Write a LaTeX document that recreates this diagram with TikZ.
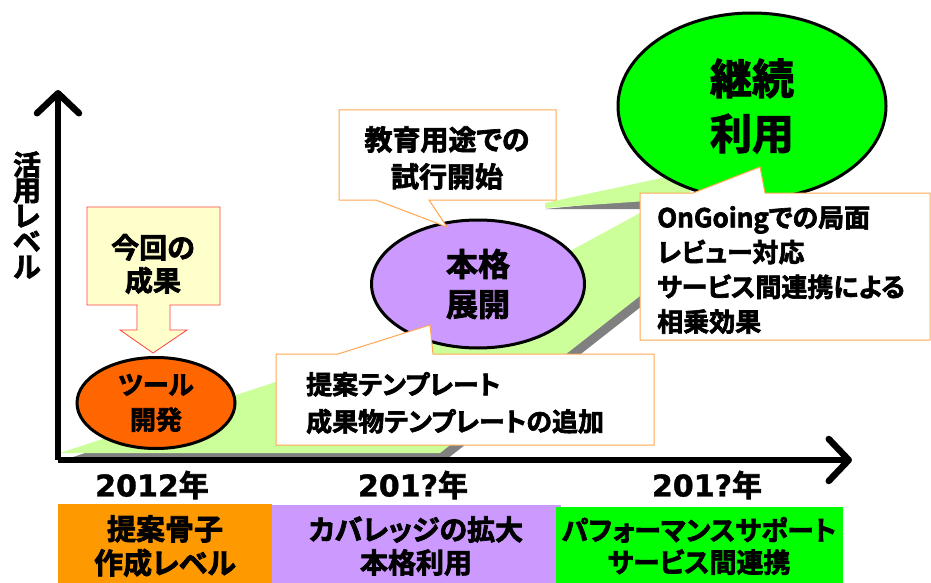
\documentclass[tikz,border=0pt]{standalone}
\usepackage{fontspec}
\setmainfont{Noto Sans CJK JP Bold}[FakeBold=2.5, RawFeature=+palt]
\newfontfamily\digitfont{DejaVu Sans Bold}[FakeBold=1.2]
\usetikzlibrary{shapes.geometric,arrows.meta}
\definecolor{rampgreen}{HTML}{CCFF99}
\definecolor{shadowgray}{HTML}{808080}
\definecolor{toolorange}{HTML}{FF6600}
\definecolor{boxorange}{HTML}{FF9900}
\definecolor{lilac}{HTML}{CC99FF}
\definecolor{brightgreen}{HTML}{00FF00}
\definecolor{paleyellow}{HTML}{FFFFCC}
\definecolor{calloutline}{HTML}{FFA850}
\definecolor{arrowline}{HTML}{FF4040}
\tikzset{
  txt/.style={inner sep=0pt, align=center},
  lefttxt/.style={inner sep=0pt, align=left, anchor=west},
  phase/.style={ellipse, draw=black, line width=3pt, inner sep=0pt, align=center},
  callout/.style={fill=white, draw=calloutline, line width=1pt},
  axis/.style={line width=6.5pt, line join=round, -{Straight Barb[length=20pt, width=42pt, round]}},
  band/.style={inner sep=0pt, align=center},
}
\begin{document}
\begin{tikzpicture}[x=1pt, y=-1pt]
\useasboundingbox (0,0) rectangle (931,583);
\fill[white] (0,0) rectangle (931,583);

% ramp shadow and surface
\fill[shadowgray] (67,459) -- (447,459) -- (647,302) -- (647,219) -- (579,256) -- (477,324) -- cycle;
\fill[rampgreen] (60,453) -- (440,453) -- (640,296) -- (640,213) -- (572,250) -- (470,318) -- cycle;
\fill[shadowgray] (545,209) -- (645,199) -- (645,209) -- cycle;
\fill[rampgreen] (545,203) -- (690,172) -- (690,198) -- (545,208) -- cycle;

% axes
\coordinate (origin) at (58,460);
\coordinate (ytop) at (58,90);
\coordinate (xend) at (852,460);
\draw[axis] (origin) -- (ytop);
\draw[axis] (origin) -- (xend);

% y label
\node[txt, font=\fontsize{28}{25.5}\selectfont] (ylabel) at (27,215) {活\\用\\レ\\ベ\\ル};

% phase ellipses
\node[phase, fill=toolorange, minimum width=158pt, minimum height=91pt,
      font=\fontsize{26}{35}\selectfont] (tool) at (156,403) {ツール\\開発};
\node[phase, fill=lilac, minimum width=213pt, minimum height=128pt,
      font=\fontsize{32}{40}\selectfont] (deploy) at (478,284) {本格\\展開};
\node[phase, fill=brightgreen, minimum width=268pt, minimum height=186pt,
      font=\fontsize{42}{55}\selectfont] (cont) at (752,106) {継続\\利用};

% yellow arrow callout
\filldraw[fill=paleyellow, draw=arrowline, line width=0.8pt]
  (87,207) -- (220,207) -- (220,305) -- (170,305) -- (170,330) -- (187,330) -- (153,353)
  -- (120,330) -- (137,330) -- (137,305) -- (87,305) -- cycle;
\node[txt, font=\fontsize{28}{33}\selectfont] (result) at (153,264) {今回の\\成果};

% callouts
\filldraw[callout] (339,110) -- (556,110) -- (556,200) -- (429,200) -- (447,227) -- (376,200) -- (339,200) -- cycle;
\node[txt, font=\fontsize{28}{37}\selectfont] (trial) at (447,158) {教育用途での\\試行開始};

\filldraw[callout] (276,354) -- (338,354) -- (430,325) -- (433,354) -- (654,354) -- (654,445) -- (276,445) -- cycle;
\node[lefttxt, font=\fontsize{26}{37}\selectfont] (tmpl) at (306,403) {提案テンプレート\\成果物テンプレートの追加};

\filldraw[callout] (640,193) -- (693,193) -- (760,167) -- (765,193) -- (930,193) -- (930,340) -- (640,340) -- cycle;
\node[lefttxt, font=\fontsize{26}{34.7}\selectfont] (ongoing) at (657,270) {OnGoingでの局面\\レビュー対応\\サービス間連携による\\相乗効果};

% years
\node[txt, font=\fontsize{30}{30}\selectfont] (y1) at (152,485) {{\digitfont 2012}年};
\node[txt, font=\fontsize{30}{30}\selectfont] (y2) at (413,485) {{\digitfont 201?}年};
\node[txt, font=\fontsize{30}{30}\selectfont] (y3) at (707,485) {{\digitfont 201?}年};

% bottom bands
\fill[lilac] (272,505) rectangle (561,583);
\fill[boxorange] (58,504) rectangle (272,583);
\fill[brightgreen] (556,507) rectangle (843,583);
\node[band, font=\fontsize{29}{34}\selectfont] (b1) at (165,546) {提案骨子\\作成レベル};
\node[band, font=\fontsize{28}{33}\selectfont] (b2) at (416,546) {カバレッジの拡大\\本格利用};
\node[band, font=\fontsize{27}{32}\selectfont] (b3) at (699,546) {パフォーマンスサポート\\サービス間連携};
\end{tikzpicture}
\end{document}
